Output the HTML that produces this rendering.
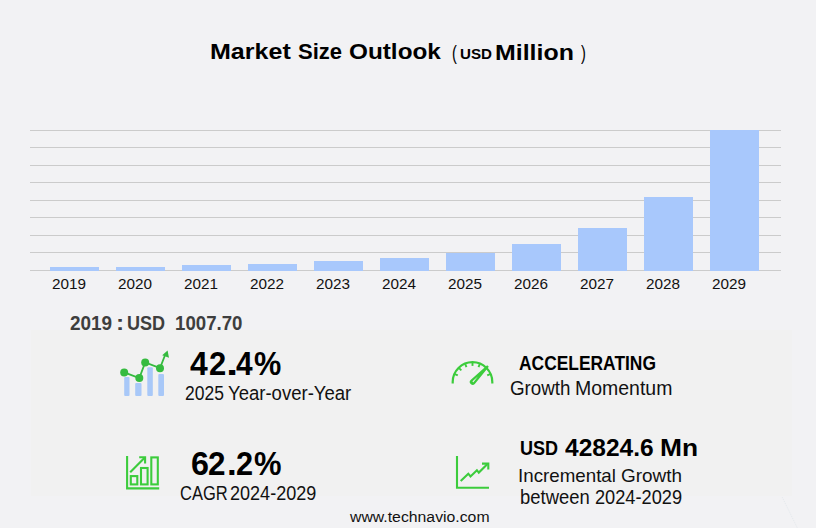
<!DOCTYPE html>
<html><head><meta charset="utf-8"><style>
html,body{margin:0;padding:0;}
body{width:816px;height:528px;background:#f2f2f4;position:relative;overflow:hidden;font-family:"Liberation Sans",sans-serif;}
.t{position:absolute;white-space:pre;line-height:1;transform-origin:0 0;}
.ic{position:absolute;overflow:visible}
#panel{position:absolute;left:31px;top:330px;width:761px;height:166px;background:#f1f1f1;}
</style></head><body>
<div id="panel"></div>
<svg style="position:absolute;left:0;top:0" width="816" height="300" viewBox="0 0 816 300">
<rect x="30" y="130" width="751" height="1" fill="#cbcbcb"/><rect x="30" y="147" width="751" height="1" fill="#cbcbcb"/><rect x="30" y="165" width="751" height="1" fill="#cbcbcb"/><rect x="30" y="182" width="751" height="1" fill="#cbcbcb"/><rect x="30" y="200" width="751" height="1" fill="#cbcbcb"/><rect x="30" y="217" width="751" height="1" fill="#cbcbcb"/><rect x="30" y="235" width="751" height="1" fill="#cbcbcb"/><rect x="30" y="252" width="751" height="1" fill="#cbcbcb"/><rect x="30" y="270" width="751" height="1" fill="#cbcbcb"/>
<rect x="50" y="267" width="49" height="4" fill="#a8c8fc"/><rect x="116" y="267" width="49" height="4" fill="#a8c8fc"/><rect x="182" y="265" width="49" height="6" fill="#a8c8fc"/><rect x="248" y="264" width="49" height="7" fill="#a8c8fc"/><rect x="314" y="261" width="49" height="10" fill="#a8c8fc"/><rect x="380" y="258" width="49" height="13" fill="#a8c8fc"/><rect x="446" y="253" width="49" height="18" fill="#a8c8fc"/><rect x="512" y="244" width="49" height="27" fill="#a8c8fc"/><rect x="578" y="228" width="49" height="43" fill="#a8c8fc"/><rect x="644" y="197" width="49" height="74" fill="#a8c8fc"/><rect x="710" y="130" width="49" height="141" fill="#a8c8fc"/>
</svg>
<svg class="ic" style="left:110px;top:340px" width="70" height="60" viewBox="110 340 70 60">
<g fill="#a8c8f8">
<rect x="124.2" y="377" width="5.3" height="19" rx="1"/>
<rect x="135.2" y="383" width="6.3" height="13" rx="1"/>
<rect x="147.3" y="367.3" width="5.5" height="28.7" rx="1"/>
<rect x="158.3" y="374" width="5.7" height="22" rx="1"/>
</g>
<polyline points="124.2,372.4 139.3,378 145.2,362.5 160,368.2 165.5,354" fill="none" stroke="#35bb3f" stroke-width="1.8"/>
<g fill="#35bb3f"><circle cx="124.2" cy="372.4" r="4"/><circle cx="139.3" cy="378" r="4"/><circle cx="145.2" cy="362.5" r="4"/><circle cx="160" cy="368.2" r="4"/>
<polygon points="167.6,350.6 169,357.8 162.2,355.2"/></g>
</svg>
<svg class="ic" style="left:440px;top:350px" width="60" height="40" viewBox="440 350 60 40">
<g stroke="#3ccc3c" fill="none" stroke-width="2.2">
<path d="M452.7 383.6 L452.7 382 A19.8 19.8 0 0 1 492.3 382 L492.3 383.6"/>
</g>
<g stroke="#3ccc3c" fill="none" stroke-width="1.9"><line x1="490.13" y1="374.15" x2="487.21" y2="375.45"/><line x1="485.91" y1="368.12" x2="483.68" y2="370.42"/><line x1="479.73" y1="364.11" x2="478.53" y2="367.07"/><line x1="472.50" y1="362.70" x2="472.50" y2="365.90"/><line x1="465.27" y1="364.11" x2="466.47" y2="367.07"/><line x1="459.09" y1="368.12" x2="461.32" y2="370.42"/><line x1="454.87" y1="374.15" x2="457.79" y2="375.45"/></g>
<path d="M488.83,366.79 L474.80,384.00 A2.9 2.9 0 1 1 470.60,380.00 L487.17,365.21 Z" fill="#3ccc3c"/><path d="M473.03,382.74 L477.88,376.58 L471.95,381.70 A0.75 0.75 0 0 1 473.03,382.74 Z" fill="#f1f1f1"/>
</svg>
<svg class="ic" style="left:120px;top:450px" width="45" height="45" viewBox="120 450 45 45">
<g stroke="#3ccc3c" fill="none" stroke-width="2.1">
<path d="M127.1 456 V488.4 H159.2"/>
<rect x="130.8" y="476.1" width="6.5" height="8.3"/>
<rect x="141" y="468" width="6.6" height="16.4"/>
<rect x="151.3" y="457.4" width="6.5" height="27"/>
<path d="M130.2 472.2 L144.6 457.8"/>
<path d="M139.2 457.3 H145.1 V463.6"/>
</g></svg>
<svg class="ic" style="left:450px;top:450px" width="45" height="45" viewBox="450 450 45 45">
<g stroke="#3ccc3c" fill="none" stroke-width="2.1">
<path d="M457 456 V487.7 H489"/>
<polyline points="460.7,481.1 468.3,473.7 470.5,476.4 476.9,470.2 478.8,472.6 487.5,464.1"/>
<path d="M482 463.6 H488.3 V469.6"/>
</g></svg>
<span class="t" style="left:209.92px;top:41.49px;font-size:22.59px;font-weight:700;transform:scaleX(1.1097);color:#000">Market</span>
<span class="t" style="left:297.64px;top:41.49px;font-size:22.59px;font-weight:700;transform:scaleX(0.9764);color:#000">Size</span>
<span class="t" style="left:348.64px;top:41.49px;font-size:22.59px;font-weight:700;transform:scaleX(1.0772);color:#000">Outlook</span>
<span class="t" style="left:451.55px;top:42.60px;font-size:20.00px;font-weight:400;transform:scaleX(0.7236);color:#000">(</span>
<span class="t" style="left:459.86px;top:46.34px;font-size:15.35px;font-weight:700;transform:scaleX(0.9884);color:#000">USD</span>
<span class="t" style="left:494.93px;top:41.74px;font-size:22.59px;font-weight:700;transform:scaleX(1.1033);color:#000">Million</span>
<span class="t" style="left:581.17px;top:42.60px;font-size:20.00px;font-weight:400;transform:scaleX(0.7272);color:#000">)</span>
<span class="t" style="left:51.62px;top:276.45px;font-size:15.42px;font-weight:400;transform:scaleX(0.9922);color:#111">2019</span>
<span class="t" style="left:117.62px;top:276.45px;font-size:15.42px;font-weight:400;transform:scaleX(0.9922);color:#111">2020</span>
<span class="t" style="left:183.62px;top:276.45px;font-size:15.42px;font-weight:400;transform:scaleX(0.9922);color:#111">2021</span>
<span class="t" style="left:249.62px;top:276.45px;font-size:15.42px;font-weight:400;transform:scaleX(0.9922);color:#111">2022</span>
<span class="t" style="left:315.62px;top:276.45px;font-size:15.42px;font-weight:400;transform:scaleX(0.9922);color:#111">2023</span>
<span class="t" style="left:381.62px;top:276.45px;font-size:15.42px;font-weight:400;transform:scaleX(0.9922);color:#111">2024</span>
<span class="t" style="left:447.62px;top:276.45px;font-size:15.42px;font-weight:400;transform:scaleX(0.9922);color:#111">2025</span>
<span class="t" style="left:513.62px;top:276.45px;font-size:15.42px;font-weight:400;transform:scaleX(0.9922);color:#111">2026</span>
<span class="t" style="left:579.62px;top:276.45px;font-size:15.42px;font-weight:400;transform:scaleX(0.9922);color:#111">2027</span>
<span class="t" style="left:645.62px;top:276.45px;font-size:15.42px;font-weight:400;transform:scaleX(0.9922);color:#111">2028</span>
<span class="t" style="left:711.62px;top:276.45px;font-size:15.42px;font-weight:400;transform:scaleX(0.9922);color:#111">2029</span>
<span class="t" style="left:69.68px;top:313.96px;font-size:19.44px;font-weight:700;transform:scaleX(0.9746);color:#3e3e3e">2019</span>
<span class="t" style="left:116.00px;top:313.96px;font-size:19.44px;font-weight:700;transform:scaleX(1.2542);color:#3e3e3e">:</span>
<span class="t" style="left:127.00px;top:313.96px;font-size:19.44px;font-weight:700;transform:scaleX(0.9283);color:#3e3e3e">USD</span>
<span class="t" style="left:175.38px;top:313.96px;font-size:19.44px;font-weight:700;transform:scaleX(0.9599);color:#3e3e3e">1007.70</span>
<span class="t" style="left:190.30px;top:347.83px;font-size:32.82px;font-weight:700;transform:scaleX(0.9721);color:#000">4</span>
<span class="t" style="left:208.50px;top:347.83px;font-size:32.82px;font-weight:700;transform:scaleX(0.9440);color:#000">2</span>
<span class="t" style="left:225.62px;top:347.83px;font-size:32.82px;font-weight:700;transform:scaleX(1.3430);color:#000">.</span>
<span class="t" style="left:235.53px;top:347.83px;font-size:32.82px;font-weight:700;transform:scaleX(0.9090);color:#000">4</span>
<span class="t" style="left:254.28px;top:347.83px;font-size:32.82px;font-weight:700;transform:scaleX(0.9346);color:#000">%</span>
<span class="t" style="left:184.98px;top:383.84px;font-size:19.86px;font-weight:400;transform:scaleX(0.8804);color:#111">2025</span>
<span class="t" style="left:227.80px;top:383.84px;font-size:19.86px;font-weight:400;transform:scaleX(0.9332);color:#111">Year-over-Year</span>
<span class="t" style="left:519.36px;top:353.82px;font-size:19.72px;font-weight:700;transform:scaleX(0.8831);color:#000">ACCELERATING</span>
<span class="t" style="left:509.53px;top:379.44px;font-size:19.73px;font-weight:400;transform:scaleX(0.9518);color:#111">Growth</span>
<span class="t" style="left:574.85px;top:379.44px;font-size:19.73px;font-weight:400;transform:scaleX(0.9876);color:#111">Momentum</span>
<span class="t" style="left:190.65px;top:447.79px;font-size:32.82px;font-weight:700;transform:scaleX(0.9832);color:#000">6</span>
<span class="t" style="left:208.45px;top:447.79px;font-size:32.82px;font-weight:700;transform:scaleX(0.9588);color:#000">2</span>
<span class="t" style="left:227.32px;top:447.79px;font-size:32.82px;font-weight:700;transform:scaleX(1.0650);color:#000">.</span>
<span class="t" style="left:235.97px;top:447.79px;font-size:32.82px;font-weight:700;transform:scaleX(0.9374);color:#000">2</span>
<span class="t" style="left:253.97px;top:447.79px;font-size:32.82px;font-weight:700;transform:scaleX(0.9427);color:#000">%</span>
<span class="t" style="left:180.35px;top:483.69px;font-size:19.86px;font-weight:400;transform:scaleX(0.8314);color:#111">CAGR</span>
<span class="t" style="left:229.84px;top:483.69px;font-size:19.86px;font-weight:400;transform:scaleX(0.9086);color:#111">2024-2029</span>
<span class="t" style="left:520.00px;top:437.86px;font-size:20.28px;font-weight:700;transform:scaleX(0.8900);color:#000">USD</span>
<span class="t" style="left:565.35px;top:436.50px;font-size:23.10px;font-weight:700;transform:scaleX(1.0613);color:#000">42824.6</span>
<span class="t" style="left:659.65px;top:436.50px;font-size:23.10px;font-weight:700;transform:scaleX(1.1416);color:#000">Mn</span>
<span class="t" style="left:518.49px;top:466.64px;font-size:18.91px;font-weight:400;transform:scaleX(0.9915);color:#111">Incremental</span>
<span class="t" style="left:620.86px;top:466.64px;font-size:18.91px;font-weight:400;transform:scaleX(1.0016);color:#111">Growth</span>
<span class="t" style="left:520.48px;top:487.40px;font-size:20.00px;font-weight:400;transform:scaleX(0.9222);color:#111">between</span>
<span class="t" style="left:594.50px;top:487.40px;font-size:20.00px;font-weight:400;transform:scaleX(0.9101);color:#111">2024-2029</span>
<span class="t" style="left:350.29px;top:508.53px;font-size:15.51px;font-weight:400;transform:scaleX(1.0189);color:#111">www.technavio.com</span>
<svg style="position:absolute;left:770px;top:490px" width="46" height="38" viewBox="770 490 46 38"><line x1="782.3" y1="497.3" x2="797.6" y2="528.5" stroke="#e3e8ec" stroke-width="1" stroke-dasharray="1 1.1"/></svg>
</body></html>
